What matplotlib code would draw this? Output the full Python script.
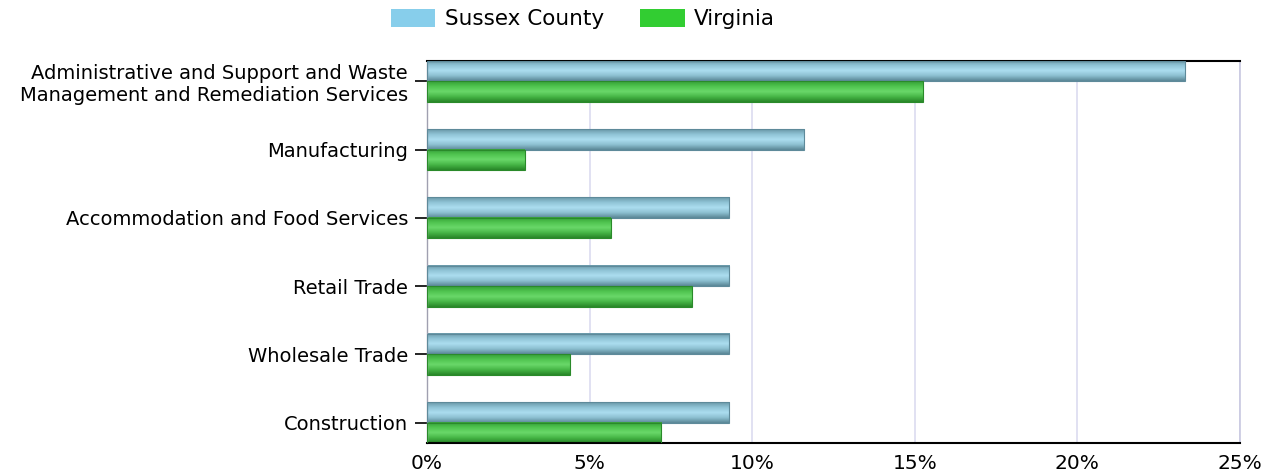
import numpy as np
import matplotlib.pyplot as plt
from matplotlib.colors import LinearSegmentedColormap
from matplotlib.patches import Patch

# data
categories = ['Administrative and Support and Waste\nManagement and Remediation Services',
              'Manufacturing',
              'Accommodation and Food Services',
              'Retail Trade',
              'Wholesale Trade',
              'Construction']
sussex = [23.3, 11.6, 9.3, 9.3, 9.3, 9.3]
virginia = [15.25, 3.0, 5.65, 8.15, 4.4, 7.2]
xticks = [0, 5, 10, 15, 20, 25]
xticklabels = ['0%', '5%', '10%', '15%', '20%', '25%']

plt.rcParams['font.family'] = ['DejaVu Sans']

fig = plt.figure(figsize=(12.76, 4.76), dpi=100)
ax = fig.add_axes([427 / 1276, 1 - 443 / 476, (1240 - 427) / 1276, (443 - 61) / 476])

blue_cmap = LinearSegmentedColormap.from_list('b', ['#6a98a8', '#90c4d6', '#acdef0', '#8cbfd0', '#5a8696'])
green_cmap = LinearSegmentedColormap.from_list('g', ['#34a034', '#50c450', '#6ad86a', '#46b646', '#288628'])
grad = np.linspace(0, 1, 64).reshape(-1, 1)

h = 0.3
y = np.arange(len(categories))
for i in range(len(categories)):
    for val, y0, cmap, ec in [(sussex[i], y[i] - h, blue_cmap, '#5e8a9a'),
                               (virginia[i], y[i], green_cmap, '#2a8a2a')]:
        ax.imshow(grad, extent=[0, val, y0 + h, y0], aspect='auto', cmap=cmap,
                  origin='upper', zorder=2, interpolation='bilinear')
        ax.barh(y0 + h / 2, val, height=h, color='none', edgecolor=ec, linewidth=0.8, zorder=3)

ax.set_xlim(0, 25)
ax.set_ylim(len(categories) - 1 + h, -h)
ax.set_aspect('auto')

ax.set_xticks(xticks)
ax.set_xticklabels(xticklabels, fontsize=14.5)
ax.set_yticks(y)
ax.set_yticklabels(categories, fontsize=14, linespacing=1.2)
ax.tick_params(axis='y', length=8.6, width=1.2, color='black', pad=5)
ax.tick_params(axis='x', length=0, pad=8)
ax.grid(axis='x', color='#dcdcf0', linewidth=1.2, zorder=0)
ax.set_axisbelow(True)

ax.spines['top'].set_color('black')
ax.spines['top'].set_linewidth(1.5)
ax.spines['bottom'].set_color('black')
ax.spines['bottom'].set_linewidth(1.5)
ax.spines['left'].set_color('#a0a0b0')
ax.spines['left'].set_linewidth(1)
ax.spines['right'].set_color('#c8c8e0')
ax.spines['right'].set_linewidth(1.2)

handles = [Patch(facecolor='#87ceeb', label='Sussex County'),
           Patch(facecolor='#32cd32', label='Virginia')]
fig.legend(handles=handles, loc='center', bbox_to_anchor=(0.457, 1 - 19 / 476), ncol=2,
           frameon=False, fontsize=15.5, handlelength=2.05, handleheight=0.9, columnspacing=1.7,
           handletextpad=0.45)

fig.savefig('out.png', dpi=100)
